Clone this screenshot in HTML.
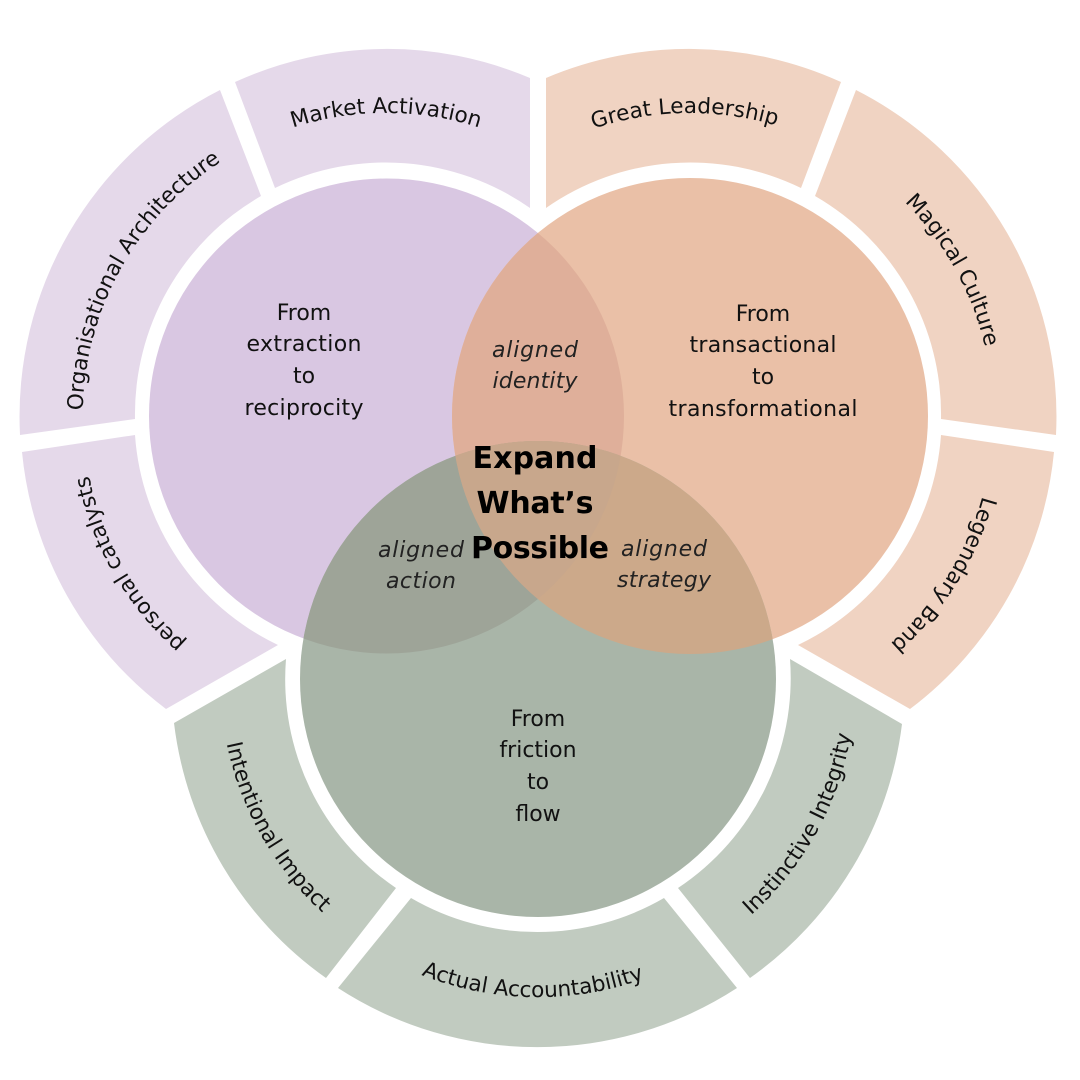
<!DOCTYPE html>
<html><head><meta charset="utf-8"><style>
html,body{margin:0;padding:0;background:#fff}
svg{display:block}
text{font-family:"DejaVu Sans","Liberation Sans",sans-serif;fill:#111}
.r{font-size:21.6px}
.m{font-size:22px;text-anchor:middle}
.i{font-size:22px;text-anchor:middle;font-style:italic;fill:#222}
.b{font-size:30px;font-weight:bold;text-anchor:middle;fill:#000}
</style></head><body>
<svg width="1080" height="1080" viewBox="0 0 1080 1080" xmlns="http://www.w3.org/2000/svg">
<defs>
<clipPath id="cp"><circle cx="386.5" cy="416" r="237.5"/></clipPath>
<clipPath id="co"><circle cx="690" cy="416" r="238"/></clipPath>
<clipPath id="cg"><circle cx="538" cy="679" r="238"/></clipPath>
<path id="t1" d="M154 221A303 303 0 0 1 618 221"/>
<path id="t2" d="M126 572A303 303 0 0 1 381 113"/>
<path id="t3" d="M386 719A303 303 0 0 1 124 264"/>
<path id="t4" d="M454.5 225.3A303 303 0 0 1 918.7 217.2"/>
<path id="t5" d="M695 113A303 303 0 0 1 949.7 572"/>
<path id="t6" d="M957.5 273.7A303 303 0 0 1 679.4 719"/>
<path id="t7" d="M264 517.6A318 318 0 0 0 535.2 997"/>
<path id="t8" d="M259.8 833.2A318 318 0 0 0 810.6 842.8"/>
<path id="t9" d="M543.5 997A318 318 0 0 0 810.6 515.2"/>
</defs>
<g fill="#E5D9EA">
<path d="M235 82A366 366 0 0 1 530 78L530 208A252 252 0 0 0 275 188Z"/>
<path d="M20 435A366 366 0 0 1 220 90L261 196A252 252 0 0 0 135 419Z"/>
<path d="M166 709A366 366 0 0 1 22 452L135 435A252 252 0 0 0 278 645Z"/>
</g>
<g fill="#F0D3C2">
<path d="M546 78A366 366 0 0 1 841 82L801 188A252 252 0 0 0 546 208Z"/>
<path d="M856 90A366 366 0 0 1 1056 435L941 419A252 252 0 0 0 815 196Z"/>
<path d="M1054 452A366 366 0 0 1 910 709L798 645A252 252 0 0 0 941 435Z"/>
</g>
<g fill="#C1CBC0">
<path d="M174 723A366 366 0 0 0 326 978L396 888A252 252 0 0 1 286 659Z"/>
<path d="M338 988A366 366 0 0 0 737 988L664 898A252 252 0 0 1 411 898Z"/>
<path d="M750 978A366 366 0 0 0 902 724L790 659A252 252 0 0 1 678 888Z"/>
</g>
<circle cx="386.5" cy="416" r="237.5" fill="#D9C7E2"/>
<circle cx="690" cy="416" r="238" fill="#EAC0A7"/>
<circle cx="538" cy="679" r="238" fill="#A9B5A8"/>
<g clip-path="url(#cp)"><circle cx="690" cy="416" r="238" fill="#DFAF9A"/><circle cx="538" cy="679" r="238" fill="#9EA498"/></g>
<g clip-path="url(#co)"><circle cx="538" cy="679" r="238" fill="#CCA98A"/></g>
<g clip-path="url(#cp)"><g clip-path="url(#co)"><circle cx="538" cy="679" r="238" fill="#C8A78C"/></g></g>

<text class="r" text-anchor="middle"><textPath href="#t1" startOffset="50%">Market Activation</textPath></text>
<text class="r" text-anchor="middle"><textPath href="#t2" startOffset="50%">Organisational Architecture</textPath></text>
<text class="r" text-anchor="middle"><textPath href="#t3" startOffset="50%">personal catalysts</textPath></text>
<text class="r" text-anchor="middle"><textPath href="#t4" startOffset="50%">Great Leadership</textPath></text>
<text class="r" text-anchor="middle"><textPath href="#t5" startOffset="50%">Magical Culture</textPath></text>
<text class="r" text-anchor="middle"><textPath href="#t6" startOffset="50%">Legendary Band</textPath></text>
<text class="r" text-anchor="middle"><textPath href="#t7" startOffset="50%">Intentional Impact</textPath></text>
<text class="r" text-anchor="middle"><textPath href="#t8" startOffset="50%">Actual Accountability</textPath></text>
<text class="r" text-anchor="middle"><textPath href="#t9" startOffset="50%">Instinctive Integrity</textPath></text>

<text class="m" x="304" y="320">From</text>
<text class="m" x="304" y="351" textLength="115">extraction</text>
<text class="m" x="304" y="383">to</text>
<text class="m" x="304" y="415" textLength="119">reciprocity</text>

<text class="m" x="763" y="321">From</text>
<text class="m" x="763" y="352" textLength="147">transactional</text>
<text class="m" x="763" y="384">to</text>
<text class="m" x="763" y="416" textLength="189">transformational</text>

<text class="m" x="538" y="726">From</text>
<text class="m" x="538" y="757">friction</text>
<text class="m" x="538" y="789">to</text>
<text class="m" x="538" y="821">flow</text>

<text class="i" x="535" y="357" textLength="86">aligned</text>
<text class="i" x="535" y="388" textLength="85">identity</text>
<text class="i" x="421" y="557" textLength="86">aligned</text>
<text class="i" x="421" y="588" textLength="70">action</text>
<text class="i" x="664" y="556" textLength="86">aligned</text>
<text class="i" x="664" y="587" textLength="94">strategy</text>

<text class="b" x="535" y="468" textLength="125">Expand</text>
<text class="b" x="535" y="513" textLength="117">What’s</text>
<text class="b" x="540" y="558" textLength="138">Possible</text>
</svg>
</body></html>
